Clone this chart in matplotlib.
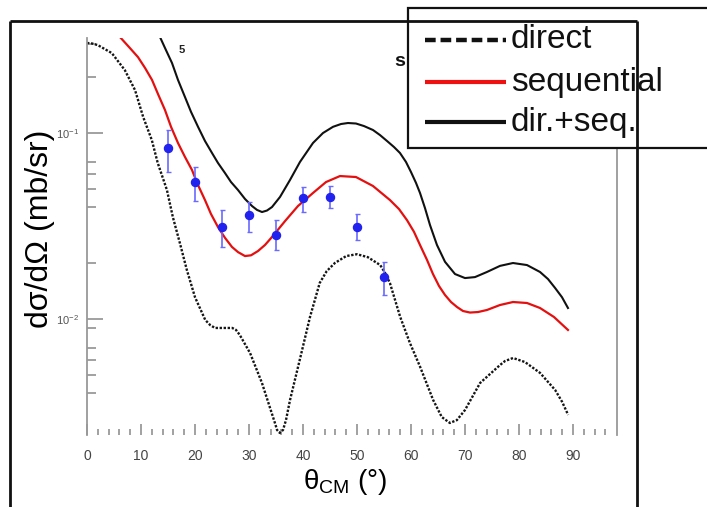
import matplotlib
matplotlib.use("Agg")
import matplotlib.pyplot as plt
from matplotlib.ticker import FixedLocator, NullFormatter, FixedFormatter
from matplotlib.patches import Rectangle
from matplotlib.lines import Line2D

plt.rcParams['font.family'] = ['Liberation Sans', 'DejaVu Sans']
plt.rcParams['mathtext.fontset'] = 'custom'
plt.rcParams['mathtext.rm'] = 'Liberation Sans'
plt.rcParams['mathtext.it'] = 'Liberation Sans:italic'
plt.rcParams['mathtext.bf'] = 'Liberation Sans:bold'

# --- calculated angular distributions (theta_CM in degrees, mb/sr) ---
direct_theta = [0.0, 0.93, 2.0, 4.6, 7.0, 8.9, 10.4, 12.0, 13.1, 14.8, 15.9, 17.2,
                18.5, 20.0, 21.9, 22.8, 23.7, 26.9, 27.6, 28.3, 30.2, 32.4, 34.8,
                35.2, 35.7, 36.3, 36.85, 37.6, 39.4, 41.3, 43.1, 44.4, 45.9, 48.0,
                50.0, 52.0, 54.3, 55.2, 56.1, 58.0, 59.8, 61.7, 64.1, 65.7, 67.2,
                68.5, 70.0, 72.8, 76.5, 77.4, 78.9, 81.1, 83.9, 86.7, 88.0, 89.1]
direct_xs = [0.305, 0.303, 0.297, 0.269, 0.218, 0.170, 0.122, 0.0917, 0.069, 0.0494,
             0.0353, 0.0256, 0.0183, 0.0131, 0.00988, 0.00928, 0.00895, 0.00895,
             0.00873, 0.0082, 0.00656, 0.00453, 0.00276, 0.00253, 0.00244, 0.00253,
             0.00286, 0.00367, 0.00603, 0.01026, 0.01563, 0.0181, 0.0200, 0.0218,
             0.0223, 0.0215, 0.0195, 0.0177, 0.0156, 0.01026, 0.00743, 0.00552,
             0.00367, 0.00297, 0.00276, 0.00286, 0.00324, 0.00453, 0.00566, 0.00594,
             0.00617, 0.00587, 0.00513, 0.00415, 0.00358, 0.00305]

seq_theta = [6.11, 7.78, 9.44, 10.74, 12.04, 13.15, 14.44, 15.56, 16.85, 18.15,
             19.44, 20.56, 21.85, 22.96, 24.26, 25.56, 26.85, 27.96, 29.26, 30.37,
             31.67, 32.96, 34.26, 36.67, 39.07, 41.85, 44.26, 46.85, 49.81, 52.96,
             56.11, 57.78, 59.26, 60.56, 61.67, 62.96, 64.07, 65.19, 66.30, 67.41,
             68.52, 69.63, 70.93, 72.41, 74.07, 76.48, 78.89, 81.48, 83.89, 86.48,
             89.07]
seq_xs = [0.328, 0.290, 0.256, 0.224, 0.193, 0.162, 0.133, 0.108, 0.0884, 0.0743,
          0.0633, 0.0525, 0.0436, 0.0367, 0.0312, 0.0273, 0.0244, 0.0229, 0.0218,
          0.0220, 0.0232, 0.0250, 0.0276, 0.0336, 0.0405, 0.0476, 0.0545, 0.0587,
          0.0580, 0.0519, 0.0436, 0.0390, 0.0340, 0.0294, 0.0250, 0.0208, 0.01745,
          0.01504, 0.01346, 0.01234, 0.0116, 0.01104, 0.01083, 0.0109, 0.01118,
          0.01189, 0.01234, 0.01219, 0.01146, 0.01025, 0.00873]

sum_theta = [13.52, 14.63, 15.74, 16.85, 18.15, 19.26, 20.56, 21.85, 23.15, 24.26,
             25.56, 26.67, 27.96, 29.26, 30.56, 31.48, 32.41, 33.33, 34.26, 35.74,
             37.59, 39.44, 41.85, 43.70, 45.56, 47.04, 48.33, 49.81, 51.30, 52.96,
             54.26, 55.56, 56.85, 57.96, 59.07, 60.00, 60.93, 61.67, 62.59, 63.52,
             64.81, 66.30, 68.15, 70.00, 71.85, 74.07, 76.48, 78.89, 81.48, 83.89,
             85.37, 86.67, 87.96, 89.07]
sum_xs = [0.328, 0.279, 0.238, 0.193, 0.156, 0.130, 0.108, 0.0906, 0.0781, 0.0690,
          0.0609, 0.0545, 0.0494, 0.0442, 0.0405, 0.0386, 0.0376, 0.0383, 0.0400,
          0.0453, 0.0559, 0.0699, 0.0884, 0.100, 0.108, 0.1118, 0.1132, 0.1125,
          0.1090, 0.1038, 0.0975, 0.0906, 0.0841, 0.0781, 0.0699, 0.0617, 0.0539,
          0.0476, 0.0395, 0.0320, 0.0250, 0.0203, 0.01745, 0.0166, 0.0168, 0.0179,
          0.0193, 0.0200, 0.0195, 0.0179, 0.0164, 0.0147, 0.0131, 0.01146]

# --- measured cross sections ---
exp_theta = [15, 20, 25, 30, 35, 40, 45, 50, 55]
exp_xs = [0.083, 0.0546, 0.0313, 0.0362, 0.0283, 0.0448, 0.0453, 0.0313, 0.0168]
exp_hi = [0.104, 0.0656, 0.0385, 0.0426, 0.034, 0.0513, 0.0519, 0.0367, 0.0202]
exp_lo = [0.0617, 0.043, 0.0244, 0.0294, 0.0235, 0.0376, 0.0395, 0.0266, 0.0135]

x_major = [0, 10, 20, 30, 40, 50, 60, 70, 80, 90]
x_labels = [str(v) for v in x_major]
y_major = [0.01, 0.1]
y_labels = [r'$10^{-2}$', r'$10^{-1}$']
y_minor = [0.3, 0.2, 0.07, 0.06, 0.05, 0.04, 0.02, 0.009, 0.007, 0.006, 0.005, 0.004]

legend_labels = ['direct', 'sequential', 'dir.+seq.']

W, H = 707, 507
fig = plt.figure(figsize=(W / 100, H / 100), dpi=100)
fig.patch.set_facecolor('white')

ax = fig.add_axes([87 / W, (H - 435) / H, 530 / W, 397 / H])
ax.set_yscale('log')
ax.set_xlim(0, 98.15)
ax.set_ylim(0.002378, 0.3243)

ax.plot(direct_theta, direct_xs, color='#151515', lw=1.7, ls=(0, (1.0, 0.7)))
ax.plot(seq_theta, seq_xs, color='#e41010', lw=1.6, solid_joinstyle='round')
ax.plot(sum_theta, sum_xs, color='#111111', lw=1.5, solid_joinstyle='round')

err_lo = [v - l for v, l in zip(exp_xs, exp_lo)]
err_hi = [h - v for v, h in zip(exp_xs, exp_hi)]
ax.errorbar(exp_theta, exp_xs, yerr=[err_lo, err_hi], fmt='o', color='#2222ee',
            markersize=5.8, ecolor='#6a6aff', elinewidth=1.2, capsize=1.8,
            capthick=1.0, zorder=4)

for side in ('top', 'bottom'):
    ax.spines[side].set_visible(False)
for side in ('left', 'right'):
    ax.spines[side].set_color('#999999')
    ax.spines[side].set_linewidth(1.3)

ax.xaxis.set_major_locator(FixedLocator(x_major))
ax.xaxis.set_major_formatter(FixedFormatter(x_labels))
ax.xaxis.set_minor_locator(FixedLocator([v for v in range(2, 97, 2) if v % 10]))
ax.yaxis.set_major_locator(FixedLocator(y_major))
ax.yaxis.set_major_formatter(FixedFormatter(y_labels))
ax.yaxis.set_minor_locator(FixedLocator(y_minor))
ax.yaxis.set_minor_formatter(NullFormatter())

ax.tick_params(axis='x', which='major', direction='in', length=8, width=1.1,
               color='#888888', labelsize=10, labelcolor='#444444', pad=10)
ax.tick_params(axis='x', which='minor', direction='in', length=4, width=1.1,
               color='#888888')
ax.tick_params(axis='y', which='major', direction='in', length=11.5, width=1.1,
               color='#888888', labelsize=8, labelcolor='#555555', pad=6)
ax.tick_params(axis='y', which='minor', direction='in', length=6.5, width=1.1,
               color='#888888')
ax.tick_params(right=False, top=False, which='both')

ax.set_xlabel(r'$\mathrm{θ}_{\mathrm{CM}}$ (°)', fontsize=20, va='center')
ax.xaxis.set_label_coords((345 - 87) / 530, (435 - 482) / 397)
ax.set_ylabel('dσ/dΩ (mb/sr)', fontsize=23, va='center')
ax.yaxis.set_label_coords((40 - 87) / 530, (435 - 229) / 397)

# --- overlay in pixel units: outer frame, stray title glyphs, legend ---
ov = fig.add_axes([0, 0, 1, 1], zorder=5)
ov.set_xlim(0, W)
ov.set_ylim(H, 0)
ov.axis('off')
ov.patch.set_alpha(0)

frame_kw = dict(color='#111111', lw=2.0, solid_capstyle='butt')
ov.plot([10, 10], [21, H + 2], **frame_kw)
ov.plot([10, 637], [21, 21], **frame_kw)
ov.plot([637, 637], [21, H + 2], **frame_kw)

ov.text(182, 50, '5', fontsize=8, fontweight='bold', ha='center', va='center',
        color='#222222')
ov.text(400, 62, 's', fontsize=14, fontweight='bold', ha='center', va='center',
        color='#111111')

ov.add_patch(Rectangle((408, 8), 320, 140, facecolor='white', edgecolor='#111111',
                       lw=1.6, clip_on=False))
rows = [40, 82, 122]
handles = [
    dict(color='#111111', lw=3.2, ls=(0, (2.4, 1.1))),
    dict(color='#ee1111', lw=3.0, ls='-'),
    dict(color='#111111', lw=3.0, ls='-'),
]
for y, label, kw in zip(rows, legend_labels, handles):
    ov.add_line(Line2D([425, 506], [y, y], solid_capstyle='butt',
                       dash_capstyle='butt', **kw))
    ov.text(511, y, label, fontsize=24, ha='left', va='center', color='#111111')

fig.savefig('out.png', dpi=100)
